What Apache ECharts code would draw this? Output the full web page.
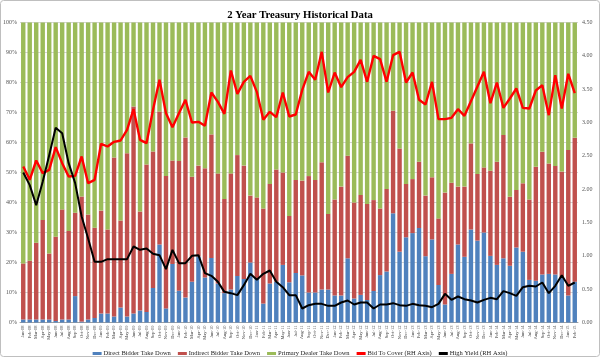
<!DOCTYPE html>
<html><head><meta charset="utf-8">
<script src="https://cdn.jsdelivr.net/npm/echarts@6/dist/echarts.min.js"></script>
<style>html,body{margin:0;padding:0;background:#fff}#c{width:600px;height:357px}</style>
</head><body><div id="c"></div>
<script>
const categories = ['Jan-08','Feb-08','Mar-08','Apr-08','May-08','Jun-08','Jul-08','Aug-08','Sep-08','Oct-08','Nov-08','Dec-08',
'Jan-09','Feb-09','Mar-09','Apr-09','May-09','Jun-09','Jul-09','Aug-09','Sep-09','Oct-09','Nov-09','Dec-09',
'Jan-10','Feb-10','Mar-10','Apr-10','May-10','Jun-10','Jul-10','Aug-10','Sep-10','Oct-10','Nov-10','Dec-10',
'Jan-11','Feb-11','Mar-11','Apr-11','May-11','Jun-11','Jul-11','Aug-11','Sep-11','Oct-11','Nov-11','Dec-11',
'Jan-12','Feb-12','Mar-12','Apr-12','May-12','Jun-12','Jul-12','Aug-12','Sep-12','Oct-12','Nov-12','Dec-12',
'Jan-13','Feb-13','Mar-13','Apr-13','May-13','Jun-13','Jul-13','Aug-13','Sep-13','Oct-13','Nov-13','Dec-13',
'Jan-14','Feb-14','Mar-14','Apr-14','May-14','Jun-14','Jul-14','Aug-14','Sep-14','Oct-14','Nov-14','Dec-14',
'Jan-15','Feb-15'];
const directBidder = [1,1,1,1,1,0.5,1,1,8.8,0.3,1,1.5,3,3,2,5,2,3,4,3.5,11.5,26,4.7,19.5,10.6,8.3,13.6,22,15,21.5,13,9.8,11,15.5,14.5,20,14.5,6.3,13,13.6,19.2,13.4,16.5,15.7,10,10,11,11,9,9,21.4,8,9.2,7.5,10.5,15.8,17,36.4,23.6,28.4,29.8,31.5,22.1,27.7,12.5,6,16.2,26,21.9,31,27.3,30,22.2,19.2,21.4,18.9,25,23.6,14.2,13.9,16,16.2,16,15,9,13.6];
const indirectBidder = [18.7,19.6,25.6,33.2,22,28.1,36.7,29.5,27.8,41.7,35,30.1,34.3,28,53,29,54.4,69,33,49.2,45.5,44.3,44.1,34.5,43.2,53.4,35,30.3,36.4,41.2,36.7,31.4,38.7,40.3,37.8,22.3,27.2,31.7,33.2,37.4,30.8,22.1,31,31.6,38.8,37.5,42.4,25.2,32,36.3,34.2,32,33.3,32,30.3,22.2,27.5,34.2,34.4,17.8,18,22.1,20.2,20.7,22.2,37.3,30.4,19.3,23.4,28.7,22.2,21.7,28.4,34.4,41.1,23,19.2,22.8,26.8,38,40.9,36.8,36.2,35.3,48.5,48];
const primaryDealer = [80.3,79.4,73.4,65.8,77,71.4,62.3,69.5,63.4,58,64,68.4,62.7,69,45,66,43.6,28,63,47.3,43,29.7,51.2,46,46.2,38.3,51.4,47.7,48.6,37.3,50.3,58.8,50.3,44.2,47.7,57.7,58.3,62,53.8,49,50,64.5,52.5,52.7,51.2,52.5,46.6,63.8,59,54.7,44.4,60,57.5,60.5,59.2,62,55.5,29.4,42,53.8,52.2,46.4,57.7,51.6,65.3,56.7,53.4,54.7,54.7,40.3,50.5,48.3,49.4,46.4,37.5,58.1,55.8,53.6,59,48.1,43.1,47,47.8,49.7,42.5,38.4];
const bidToCover = [2.34,2.14,2.43,2.24,2.29,2.63,2.39,2.19,2.2,2.49,2.09,2.14,2.68,2.64,2.71,2.73,2.89,3.2,2.74,2.69,3.19,3.64,3.14,2.93,3.14,3.34,3.0,3.01,2.95,3.45,3.31,3.13,3.78,3.43,3.61,3.7,3.46,3.04,3.16,3.08,3.45,3.09,3.12,3.49,3.76,3.64,4.06,3.45,3.75,3.53,3.68,3.76,3.94,3.61,4.0,3.95,3.61,4.01,4.06,3.6,3.75,3.34,3.27,3.61,3.05,3.05,3.07,3.2,3.1,3.32,3.54,3.76,3.29,3.6,3.22,3.36,3.51,3.22,3.21,3.48,3.56,3.11,3.71,3.21,3.73,3.44];
const highYield = [2.25,2.06,1.76,2.11,2.51,2.92,2.84,2.39,2.09,1.59,1.26,0.91,0.91,0.95,0.95,0.95,0.95,1.14,1.09,1.11,1.03,1.01,0.8,1.09,0.89,0.89,1.0,1.01,0.74,0.7,0.61,0.46,0.44,0.41,0.56,0.73,0.64,0.73,0.78,0.61,0.53,0.41,0.41,0.21,0.26,0.28,0.28,0.25,0.25,0.3,0.33,0.27,0.3,0.3,0.21,0.27,0.27,0.29,0.26,0.25,0.28,0.26,0.25,0.23,0.28,0.43,0.34,0.39,0.35,0.33,0.3,0.34,0.37,0.35,0.47,0.44,0.4,0.53,0.55,0.54,0.6,0.44,0.55,0.71,0.55,0.6];
const leftTicks = {min:0,max:100,step:10};
const rightTicks = {min:0,max:4.5,step:0.5};

const font = 'Liberation Serif';
const chart = echarts.init(document.getElementById('c'), null, {renderer:'canvas'});
chart.setOption({
  animation:false,
  backgroundColor:'#fff',
  title:{text:'2 Year Treasury Historical Data',left:'center',top:5,
    textStyle:{fontFamily:font,fontWeight:'bold',fontSize:10.7,color:'#000'}},
  graphic:[{type:'rect',shape:{x:0.5,y:0.5,width:599,height:356,r:3},
    style:{fill:'none',stroke:'#bfbfbf',lineWidth:1},silent:true,z:100}],
  legend:{top:345,left:'center',itemWidth:9,itemHeight:3,itemGap:7,icon:'rect',
    textStyle:{fontFamily:font,fontSize:6.5,color:'#222',padding:[0,0,0,-3]},
    data:['Direct Bidder Take Down','Indirect Bidder Take Down','Primary Dealer Take Down','Bid To Cover (RH Axis)','High Yield (RH Axis)']},
  grid:{left:20,right:22,top:22.5,bottom:34.5},
  xAxis:{type:'category',data:categories,
    axisTick:{show:false},axisLine:{lineStyle:{color:'#a0a0a0',width:1}},
    axisLabel:{interval:0,rotate:90,fontSize:4.5,fontFamily:font,color:'#444',margin:3}},
  yAxis:[
    {type:'value',min:leftTicks.min,max:leftTicks.max,interval:leftTicks.step,
     axisLabel:{formatter:'{value}%',fontSize:6,fontFamily:font,color:'#555',margin:3},
     axisLine:{show:false},axisTick:{show:false},
     splitLine:{lineStyle:{color:'#d4d4d4',width:1}}},
    {type:'value',min:rightTicks.min,max:rightTicks.max,interval:rightTicks.step,
     axisLabel:{formatter:v=>v.toFixed(2),fontSize:6,fontFamily:font,color:'#555',margin:4},
     axisLine:{show:false},axisTick:{show:false},splitLine:{show:false}}
  ],
  series:[
    {name:'Direct Bidder Take Down',type:'bar',stack:'a',data:directBidder,barCategoryGap:'32%',
     itemStyle:{color:'#4F81BD'}},
    {name:'Indirect Bidder Take Down',type:'bar',stack:'a',data:indirectBidder,
     itemStyle:{color:'#C0504D'}},
    {name:'Primary Dealer Take Down',type:'bar',stack:'a',data:primaryDealer,
     itemStyle:{color:'#9BBB59'}},
    {name:'Bid To Cover (RH Axis)',type:'line',yAxisIndex:1,data:bidToCover,symbol:'none',
     lineStyle:{color:'#FF0000',width:2.4},itemStyle:{color:'#FF0000'},z:5},
    {name:'High Yield (RH Axis)',type:'line',yAxisIndex:1,data:highYield,symbol:'none',
     lineStyle:{color:'#000000',width:2},itemStyle:{color:'#000000'},z:6}
  ]
});
</script></body></html>
